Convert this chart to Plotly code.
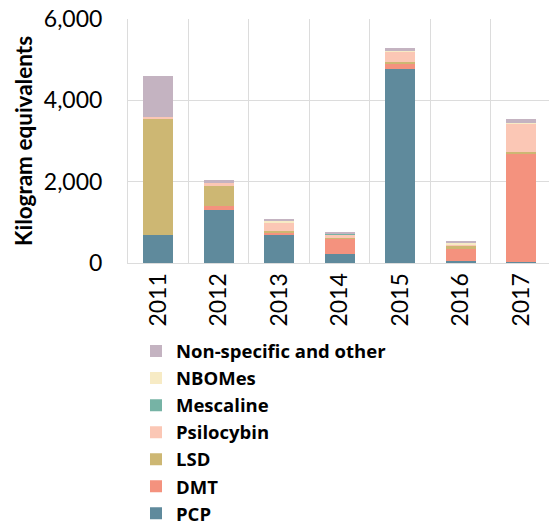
import plotly.graph_objects as go

years = ["2011", "2012", "2013", "2014", "2015", "2016", "2017"]
pcp = [690, 1300, 690, 215, 4770, 50, 20]
dmt = [0, 100, 55, 390, 130, 295, 2680]
lsd = [2860, 500, 35, 20, 40, 90, 20]
psilocybin = [40, 70, 220, 65, 270, 10, 720]
mescaline = [0, 0, 0, 25, 0, 0, 0]
nbomes = [0, 0, 30, 20, 25, 50, 10]
nonspecific = [1010, 75, 50, 30, 45, 30, 90]

series = [
    ("PCP", pcp, "#5f8a9c"),
    ("DMT", dmt, "#f4927e"),
    ("LSD", lsd, "#cdb773"),
    ("Psilocybin", psilocybin, "#fbc7b5"),
    ("Mescaline", mescaline, "#76b3a5"),
    ("NBOMes", nbomes, "#f7ebc5"),
    ("Non-specific and other", nonspecific, "#c4b3c1"),
]

fig = go.Figure()
for name, vals, col in series:
    fig.add_trace(go.Bar(x=years, y=vals, name=name, marker=dict(color=col, line=dict(width=0))))

FONT = "Lato, 'Open Sans', sans-serif"
fig.update_layout(
    width=549, height=525,
    barmode="stack", bargap=0.5,
    plot_bgcolor="white", paper_bgcolor="white",
    margin=dict(l=128, r=0, t=19, b=262, autoexpand=False),
    font=dict(family=FONT, size=23, color="black"),
    showlegend=True,
    legend=dict(
        traceorder="reversed",
        x=0.019, xanchor="left", y=-0.285, yanchor="top",
        font=dict(family="'Open Sans', sans-serif", size=18.5, color="black", weight="bold"),
        bgcolor="rgba(0,0,0,0)", tracegroupgap=0,
    ),
)
fig.update_xaxes(
    type="category", range=[-0.5, 6.46], tickson="boundaries",
    showgrid=True, gridcolor="#dcdcdc", gridwidth=1,
    ticks="", tickangle=-90, tickfont=dict(size=23),
    showline=True, linecolor="#dcdcdc", linewidth=1,
    automargin=False,
)
fig.update_yaxes(
    range=[0, 6000], tickvals=[0, 2000, 4000, 6000], tickformat=",",
    showgrid=True, gridcolor="#dcdcdc", gridwidth=1,
    showline=True, linecolor="#dcdcdc", linewidth=1, mirror=True,
    ticks="", ticklabelstandoff=20, tickfont=dict(size=23),
    ticklabeloverflow="allow",
    zeroline=False, automargin=False,
    title=dict(text="Kilogram equivalents", standoff=4,
               font=dict(family=FONT, size=22.5, weight="bold")),
)
fig.write_html("out.html", config={"displayModeBar": False},
               post_script="document.body.style.margin='0';")
